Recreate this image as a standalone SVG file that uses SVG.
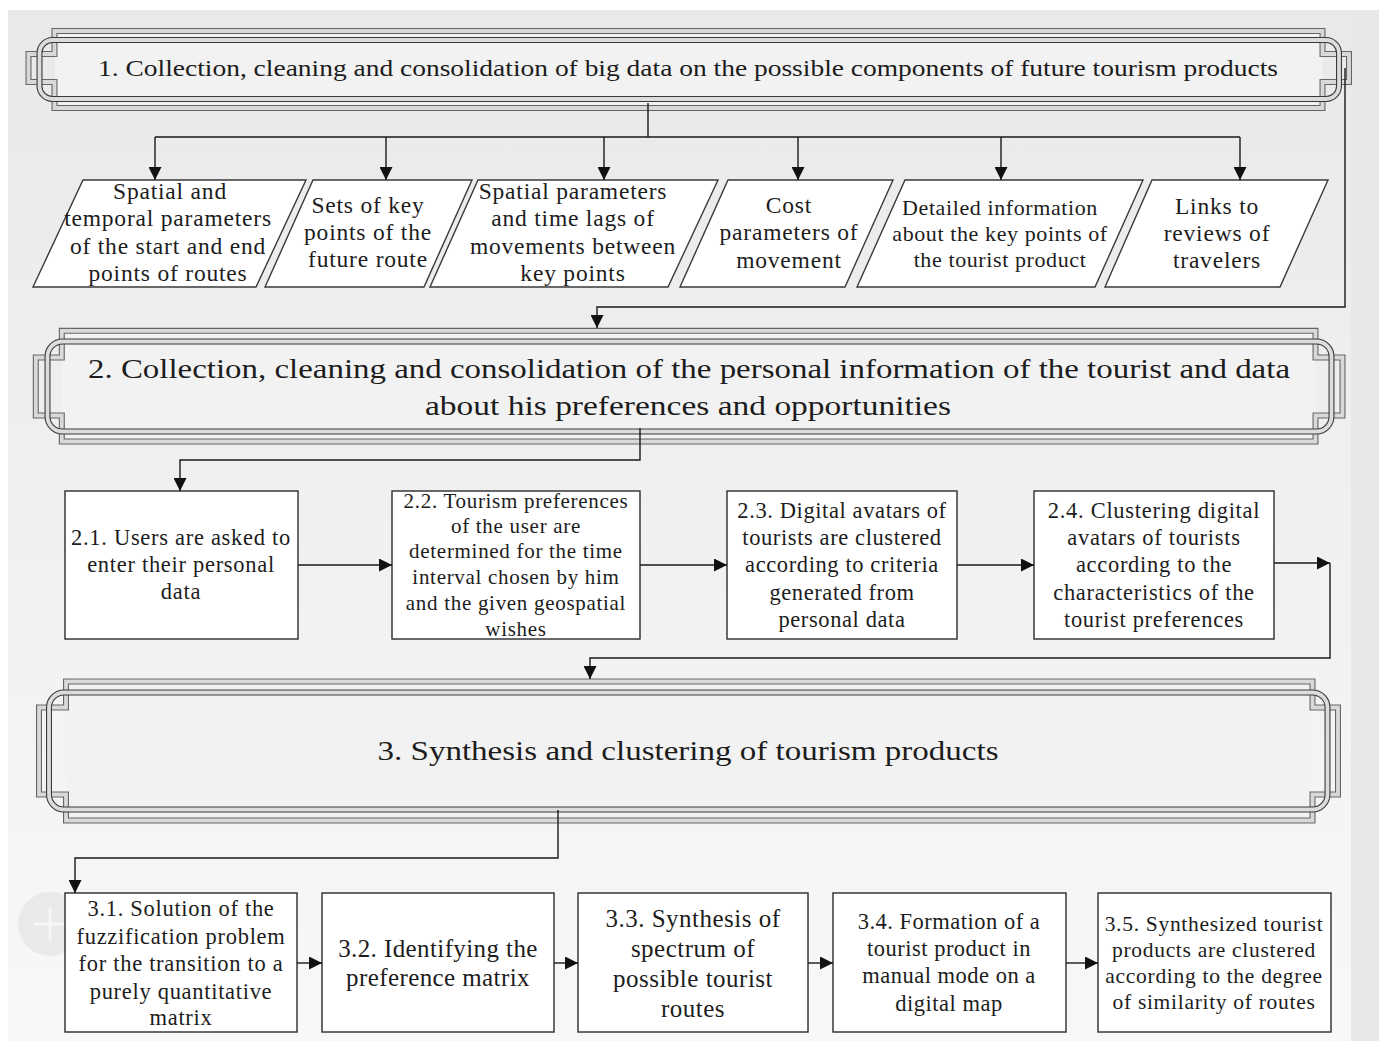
<svg xmlns="http://www.w3.org/2000/svg" width="1379" height="1041" viewBox="0 0 1379 1041">
  <defs>
    <linearGradient id="panelFill" x1="0" y1="0" x2="0" y2="1">
      <stop offset="0" stop-color="#e9e9e9"/>
      <stop offset="1" stop-color="#f8f8f8"/>
    </linearGradient>
    <marker id="arrow" markerUnits="userSpaceOnUse" markerWidth="13" markerHeight="13" refX="13" refY="6.5" orient="auto">
      <path d="M0,0 L13,6.5 L0,13 z" fill="#111"/>
    </marker>
    <style>
      .txt { font-family: "Liberation Serif", "Times New Roman", serif; fill: #1c1c1c; text-anchor: middle; }
      .box { fill: #ffffff; stroke: #2b2b2b; stroke-width: 1.4; }
      .para { fill: #ffffff; stroke: #3a3a3a; stroke-width: 1.4; }
      .link { fill: none; stroke: #1a1a1a; stroke-width: 1.4; }
      .frameOut { fill: none; stroke: #666666; stroke-width: 6; }
      .frameOutIn { fill: none; stroke: #d9d9d9; stroke-width: 3.8; }
      .frameRnd { fill: none; stroke: #3a3a3a; stroke-width: 6; }
      .frameRndIn { fill: none; stroke: #dcdcdc; stroke-width: 3.8; }
      .banner { fill: #f2f2f2; }
    </style>
  </defs>

  <!-- page background -->
  <rect x="0" y="0" width="1379" height="1041" fill="#ffffff"/>
  <rect x="8" y="10" width="1343" height="1031" fill="url(#panelFill)"/>
  <rect x="1351" y="10" width="28" height="1031" fill="#e8e8e8"/>
  <g id="zoom-badge" opacity="0.6">
    <circle cx="50" cy="924" r="32" fill="#e2e2e2"/>
    <path d="M50,908 V940 M34,924 H66" stroke="#f7f7f7" stroke-width="3"/>
  </g>

  <!-- stage 1 banner -->
  <g id="stage1">
    <rect class="banner" x="55" y="32" width="1267" height="76"/>
    <path class="frameOut" d="M54.5,31 H1322.5 V54 H1349 V82 H1322.5 V108 H54.5 V82 H28.5 V54 H54.5 Z"/>
    <path class="frameOutIn" d="M54.5,31 H1322.5 V54 H1349 V82 H1322.5 V108 H54.5 V82 H28.5 V54 H54.5 Z"/>
    <rect class="frameRnd" x="39.5" y="40" width="1299.5" height="59" rx="13"/>
    <rect class="frameRndIn" x="39.5" y="40" width="1299.5" height="59" rx="13"/>
    <text class="txt" x="688" y="76" font-size="24" textLength="1180" lengthAdjust="spacingAndGlyphs">1. Collection, cleaning and consolidation of big data on the possible components of future tourism products</text>
  </g>

  <!-- data components -->
  <g id="p1">
    <polygon class="para" points="83,180 306,180 256,287 33,287"/>
    <text class="txt" font-size="23.5" letter-spacing="0.8"><tspan x="170" y="199">Spatial and</tspan><tspan x="168" y="226">temporal parameters</tspan><tspan x="168" y="254">of the start and end</tspan><tspan x="168" y="281">points of routes</tspan></text>
  </g>
  <g id="p2">
    <polygon class="para" points="313,180 472,180 424,287 265,287"/>
    <text class="txt" font-size="23.5" letter-spacing="0.8"><tspan x="368" y="213">Sets of key</tspan><tspan x="368" y="240">points of the</tspan><tspan x="368" y="267">future route</tspan></text>
  </g>
  <g id="p3">
    <polygon class="para" points="478,180 718,180 668,287 430,287"/>
    <text class="txt" font-size="23.5" letter-spacing="0.8"><tspan x="573" y="199">Spatial parameters</tspan><tspan x="573" y="226">and time lags of</tspan><tspan x="573" y="254">movements between</tspan><tspan x="573" y="281">key points</tspan></text>
  </g>
  <g id="p4">
    <polygon class="para" points="728,180 893,180 845,287 680,287"/>
    <text class="txt" font-size="23.5" letter-spacing="0.8"><tspan x="789" y="213">Cost</tspan><tspan x="789" y="240">parameters of</tspan><tspan x="789" y="268">movement</tspan></text>
  </g>
  <g id="p5">
    <polygon class="para" points="905,180 1143,180 1095,287 857,287"/>
    <text class="txt" font-size="22" letter-spacing="0.6"><tspan x="1000" y="215">Detailed information</tspan><tspan x="1000" y="241">about the key points of</tspan><tspan x="1000" y="267">the tourist product</tspan></text>
  </g>
  <g id="p6">
    <polygon class="para" points="1152,180 1328,180 1280,287 1105,287"/>
    <text class="txt" font-size="23.5" letter-spacing="0.8"><tspan x="1217" y="214">Links to</tspan><tspan x="1217" y="241">reviews of</tspan><tspan x="1217" y="268">travelers</tspan></text>
  </g>

  <!-- stage 2 banner -->
  <g id="stage2">
    <rect class="banner" x="62" y="331" width="1253" height="110"/>
    <path class="frameOut" d="M61.8,330.8 H1315.5 V357.5 H1342.5 V415.5 H1315.5 V441.5 H61.8 V415.5 H35.8 V357.5 H61.8 Z"/>
    <path class="frameOutIn" d="M61.8,330.8 H1315.5 V357.5 H1342.5 V415.5 H1315.5 V441.5 H61.8 V415.5 H35.8 V357.5 H61.8 Z"/>
    <rect class="frameRnd" x="47.5" y="341.5" width="1284" height="90" rx="15"/>
    <rect class="frameRndIn" x="47.5" y="341.5" width="1284" height="90" rx="15"/>
    <text class="txt" font-size="28"><tspan x="689" y="378" textLength="1202" lengthAdjust="spacingAndGlyphs">2. Collection, cleaning and consolidation of the personal information of the tourist and data</tspan><tspan x="688" y="415" textLength="526" lengthAdjust="spacingAndGlyphs">about his preferences and opportunities</tspan></text>
  </g>

  <!-- tourist data steps -->
  <g id="s2-1">
    <rect class="box" x="65" y="491" width="233" height="148"/>
    <text class="txt" font-size="22.5" letter-spacing="0.7"><tspan x="181" y="545">2.1. Users are asked to</tspan><tspan x="181" y="572">enter their personal</tspan><tspan x="181" y="599">data</tspan></text>
  </g>
  <g id="s2-2">
    <rect class="box" x="392" y="491" width="248" height="148"/>
    <text class="txt" font-size="21" letter-spacing="0.7"><tspan x="516" y="508">2.2. Tourism preferences</tspan><tspan x="516" y="533">of the user are</tspan><tspan x="516" y="558">determined for the time</tspan><tspan x="516" y="584">interval chosen by him</tspan><tspan x="516" y="610">and the given geospatial</tspan><tspan x="516" y="636">wishes</tspan></text>
  </g>
  <g id="s2-3">
    <rect class="box" x="727" y="491" width="230" height="148"/>
    <text class="txt" font-size="22.5" letter-spacing="0.6"><tspan x="842" y="518">2.3. Digital avatars of</tspan><tspan x="842" y="545">tourists are clustered</tspan><tspan x="842" y="572">according to criteria</tspan><tspan x="842" y="600">generated from</tspan><tspan x="842" y="627">personal data</tspan></text>
  </g>
  <g id="s2-4">
    <rect class="box" x="1034" y="491" width="240" height="148"/>
    <text class="txt" font-size="22.5" letter-spacing="0.7"><tspan x="1154" y="518">2.4. Clustering digital</tspan><tspan x="1154" y="545">avatars of tourists</tspan><tspan x="1154" y="572">according to the</tspan><tspan x="1154" y="600">characteristics of the</tspan><tspan x="1154" y="627">tourist preferences</tspan></text>
  </g>

  <!-- stage 3 banner -->
  <g id="stage3">
    <rect class="banner" x="66" y="682" width="1246" height="138"/>
    <path class="frameOut" d="M66,681.5 H1312.5 V707.5 H1338 V794.5 H1312.5 V820.5 H66 V794.5 H39 V707.5 H66 Z"/>
    <path class="frameOutIn" d="M66,681.5 H1312.5 V707.5 H1338 V794.5 H1312.5 V820.5 H66 V794.5 H39 V707.5 H66 Z"/>
    <rect class="frameRnd" x="49" y="692.5" width="1278.5" height="117" rx="15"/>
    <rect class="frameRndIn" x="49" y="692.5" width="1278.5" height="117" rx="15"/>
    <text class="txt" x="688" y="760" font-size="28" textLength="621" lengthAdjust="spacingAndGlyphs">3. Synthesis and clustering of tourism products</text>
  </g>

  <!-- product synthesis steps -->
  <g id="s3-1">
    <rect class="box" x="65" y="893" width="232" height="139"/>
    <text class="txt" font-size="22.5" letter-spacing="0.7"><tspan x="181" y="916">3.1. Solution of the</tspan><tspan x="181" y="944">fuzzification problem</tspan><tspan x="181" y="971">for the transition to a</tspan><tspan x="181" y="999">purely quantitative</tspan><tspan x="181" y="1025">matrix</tspan></text>
  </g>
  <g id="s3-2">
    <rect class="box" x="322" y="893" width="232" height="139"/>
    <text class="txt" font-size="25" letter-spacing="0.4"><tspan x="438" y="957">3.2. Identifying the</tspan><tspan x="438" y="986">preference matrix</tspan></text>
  </g>
  <g id="s3-3">
    <rect class="box" x="578" y="893" width="230" height="139"/>
    <text class="txt" font-size="25" letter-spacing="0.5"><tspan x="693" y="927">3.3. Synthesis of</tspan><tspan x="693" y="957">spectrum of</tspan><tspan x="693" y="987">possible tourist</tspan><tspan x="693" y="1017">routes</tspan></text>
  </g>
  <g id="s3-4">
    <rect class="box" x="833" y="893" width="233" height="139"/>
    <text class="txt" font-size="22.5" letter-spacing="0.5"><tspan x="949" y="929">3.4. Formation of a</tspan><tspan x="949" y="956">tourist product in</tspan><tspan x="949" y="983">manual mode on a</tspan><tspan x="949" y="1011">digital map</tspan></text>
  </g>
  <g id="s3-5">
    <rect class="box" x="1098" y="893" width="233" height="139"/>
    <text class="txt" font-size="21.5" letter-spacing="0.7"><tspan x="1214" y="931">3.5. Synthesized tourist</tspan><tspan x="1214" y="957">products are clustered</tspan><tspan x="1214" y="983">according to the degree</tspan><tspan x="1214" y="1009">of similarity of routes</tspan></text>
  </g>

  <!-- connectors -->
  <g id="connectors">
    <path class="link" d="M648,103 V137 M155,137 H1240"/>
    <path class="link" d="M155,137 V180" marker-end="url(#arrow)"/>
    <path class="link" d="M386,137 V180" marker-end="url(#arrow)"/>
    <path class="link" d="M604,137 V180" marker-end="url(#arrow)"/>
    <path class="link" d="M798,137 V180" marker-end="url(#arrow)"/>
    <path class="link" d="M1001,137 V180" marker-end="url(#arrow)"/>
    <path class="link" d="M1240,137 V180" marker-end="url(#arrow)"/>
    <path class="link" d="M1345,68 V307 H597 V328" marker-end="url(#arrow)"/>
    <path class="link" d="M640,428 V460 H180 V491" marker-end="url(#arrow)"/>
    <path class="link" d="M298,565 H392" marker-end="url(#arrow)"/>
    <path class="link" d="M640,565 H727" marker-end="url(#arrow)"/>
    <path class="link" d="M957,565 H1034" marker-end="url(#arrow)"/>
    <path class="link" d="M1274,563 H1330" marker-end="url(#arrow)"/>
    <path class="link" d="M1330,563 V658 H590 V679" marker-end="url(#arrow)"/>
    <path class="link" d="M558,810 V858 H75 V893" marker-end="url(#arrow)"/>
    <path class="link" d="M297,963 H322" marker-end="url(#arrow)"/>
    <path class="link" d="M554,963 H578" marker-end="url(#arrow)"/>
    <path class="link" d="M808,963 H833" marker-end="url(#arrow)"/>
    <path class="link" d="M1066,963 H1098" marker-end="url(#arrow)"/>
  </g>
</svg>
